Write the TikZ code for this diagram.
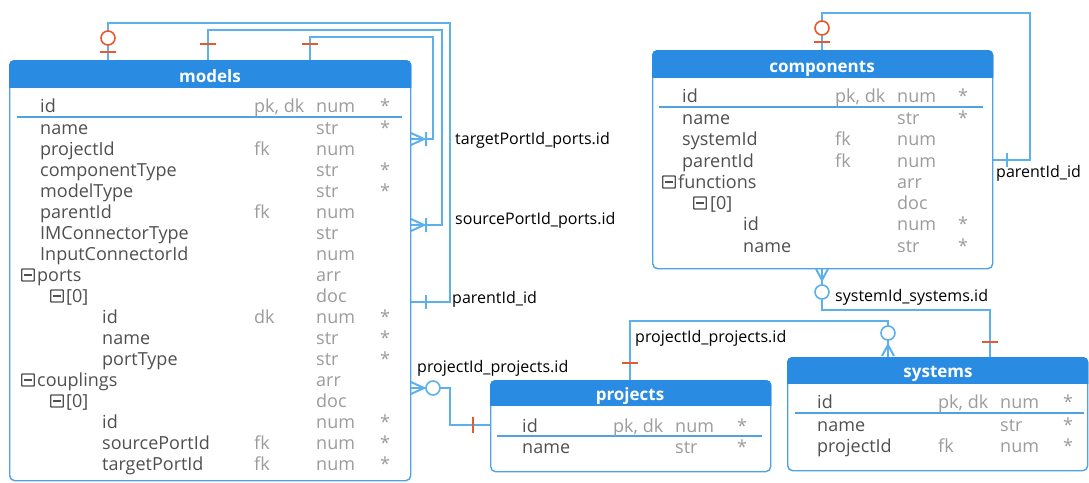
\documentclass[tikz,border=0pt]{standalone}
\usepackage{fontspec}
\setmainfont{Open Sans}
\usetikzlibrary{calc}
\definecolor{hdr}{HTML}{2A8BE2}
\definecolor{bord}{HTML}{4DA3E4}
\definecolor{conn}{HTML}{5CB0EC}
\definecolor{org}{HTML}{E8592B}
\definecolor{txt}{HTML}{505050}
\definecolor{lt}{HTML}{9C9C9C}
\newcommand\tf{\fontsize{18}{21}\selectfont}
\tikzset{
  tbl/.style={draw=bord, line width=1.4pt, rounded corners=5pt, fill=white, inner sep=0pt, anchor=north west},
  ttl/.style={text=white, font=\fontsize{17}{20}\selectfont\bfseries, inner sep=0pt, anchor=base},
  nm/.style={text=txt, font=\tf, inner sep=0pt, anchor=base west},
  ky/.style={text=lt, font=\tf, inner sep=0pt, anchor=base west},
  st/.style={text=lt, font=\tf, inner sep=0pt, anchor=base west},
  lbl/.style={text=black, font=\fontsize{16}{19}\selectfont, inner sep=0pt, anchor=base west},
  cn/.style={draw=conn, line width=2pt},
  ob/.style={draw=org, line width=2.4pt},
  oc/.style={draw=org, fill=white, line width=1.6pt},
  bc/.style={draw=conn, fill=white, line width=1.6pt},
  sep/.style={draw=bord, line width=1.5pt},
  mbox/.style={draw=txt, line width=1.4pt, rounded corners=0.6pt, minimum width=12.5pt, minimum height=12pt, inner sep=0pt,
    path picture={\draw[txt, line width=1.4pt] ([xshift=2pt]path picture bounding box.west) -- ([xshift=-2pt]path picture bounding box.east);}}
}
\newcommand\hdrfill[2]{%
  \begin{scope}
    \clip ($(#1.north west)+(-2,-2)$) rectangle ($(#1.north east)+(2,#2)$);
    \fill[hdr, rounded corners=5pt] (#1.north west) rectangle (#1.south east);
  \end{scope}}
\begin{document}
\begin{tikzpicture}[x=1pt,y=-1pt]
\fill[white] (0,0) rectangle (1089,482);
\useasboundingbox (0,0) rectangle (1089,482);

% ---------------- connectors (drawn first) ----------------
\coordinate (mt1) at (108,60);
\coordinate (mt2) at (208,60);
\coordinate (mt3) at (310,60);
\coordinate (mr1) at (410,139);
\coordinate (mr2) at (410,225);
\coordinate (mr3) at (410,302);
\coordinate (mr4) at (410,388);
\coordinate (pl) at (490,425);
\coordinate (ct) at (822,50);
\coordinate (cr) at (992,160);
\coordinate (cb) at (822,268);
\coordinate (st1) at (990,357);
\coordinate (st2) at (888,357);
\coordinate (pt) at (630,380);

\draw[cn] (mt1) |- (450,23) |- (mr3);
\draw[cn] (mt2) |- (442,30) |- (mr2);
\draw[cn] (mt3) |- (433,37) |- (mr1);
\draw[cn] (mr4) -- (450,388) |- (pl);
\draw[cn] (ct) |- (1030,13) |- (cr);
\draw[cn] (cb) -- (822,310) -| (st1);
\draw[cn] (st2) -- (888,321) -| (pt);

% ---------------- tables ----------------
% models
\node[tbl, minimum width=401pt, minimum height=420pt] (models) at (9,60) {};
\hdrfill{models}{27}
\node[ttl] (models-t) at (210,82) {models};
\draw[sep] (17,117) -- (402,117);
\node[nm] (m0) at (40,112) {id}; \node[ky] (m0k) at (254,112) {pk, dk}; \node[ky] (m0t) at (316,112) {num}; \node[st] (m0s) at (380,112) {*};
\node[nm] (m1) at (40,134) {name}; \node[ky] (m1t) at (316,134) {str}; \node[st] (m1s) at (380,134) {*};
\node[nm] (m2) at (40,155) {projectId}; \node[ky] (m2k) at (254,155) {fk}; \node[ky] (m2t) at (316,155) {num};
\node[nm] (m3) at (40,176) {componentType}; \node[ky] (m3t) at (316,176) {str}; \node[st] (m3s) at (380,176) {*};
\node[nm] (m4) at (40,197) {modelType}; \node[ky] (m4t) at (316,197) {str}; \node[st] (m4s) at (380,197) {*};
\node[nm] (m5) at (40,218) {parentId}; \node[ky] (m5k) at (254,218) {fk}; \node[ky] (m5t) at (316,218) {num};
\node[nm] (m6) at (40,239) {IMConnectorType}; \node[ky] (m6t) at (316,239) {str};
\node[nm] (m7) at (40,260) {InputConnectorId}; \node[ky] (m7t) at (316,260) {num};
\node[mbox] (m8b) at (28,275) {}; \node[nm] (m8) at (37,281) {ports}; \node[ky] (m8t) at (316,281) {arr};
\node[mbox] (m9b) at (57,296) {}; \node[nm] (m9) at (66,302) {[0]}; \node[ky] (m9t) at (316,302) {doc};
\node[nm] (m10) at (102,323) {id}; \node[ky] (m10k) at (254,323) {dk}; \node[ky] (m10t) at (316,323) {num}; \node[st] (m10s) at (380,323) {*};
\node[nm] (m11) at (102,344) {name}; \node[ky] (m11t) at (316,344) {str}; \node[st] (m11s) at (380,344) {*};
\node[nm] (m12) at (102,365) {portType}; \node[ky] (m12t) at (316,365) {str}; \node[st] (m12s) at (380,365) {*};
\node[mbox] (m13b) at (28,380) {}; \node[nm] (m13) at (37,386) {couplings}; \node[ky] (m13t) at (316,386) {arr};
\node[mbox] (m14b) at (57,401) {}; \node[nm] (m14) at (66,407) {[0]}; \node[ky] (m14t) at (316,407) {doc};
\node[nm] (m15) at (102,428) {id}; \node[ky] (m15t) at (316,428) {num}; \node[st] (m15s) at (380,428) {*};
\node[nm] (m16) at (102,449) {sourcePortId}; \node[ky] (m16k) at (254,449) {fk}; \node[ky] (m16t) at (316,449) {num}; \node[st] (m16s) at (380,449) {*};
\node[nm] (m17) at (102,470) {targetPortId}; \node[ky] (m17k) at (254,470) {fk}; \node[ky] (m17t) at (316,470) {num}; \node[st] (m17s) at (380,470) {*};

% components
\node[tbl, minimum width=340pt, minimum height=218pt] (components) at (652,50) {};
\hdrfill{components}{27}
\node[ttl] (components-t) at (822,72) {components};
\draw[sep] (659,107) -- (983,107);
\node[nm] (c0) at (682,102) {id}; \node[ky] (c0k) at (835,102) {pk, dk}; \node[ky] (c0t) at (897,102) {num}; \node[st] (c0s) at (958,102) {*};
\node[nm] (c1) at (682,124) {name}; \node[ky] (c1t) at (897,124) {str}; \node[st] (c1s) at (958,124) {*};
\node[nm] (c2) at (682,145) {systemId}; \node[ky] (c2k) at (835,145) {fk}; \node[ky] (c2t) at (897,145) {num};
\node[nm] (c3) at (682,167) {parentId}; \node[ky] (c3k) at (835,167) {fk}; \node[ky] (c3t) at (897,167) {num};
\node[mbox] (c4b) at (669,182) {}; \node[nm] (c4) at (678,188) {functions}; \node[ky] (c4t) at (897,188) {arr};
\node[mbox] (c5b) at (700,203) {}; \node[nm] (c5) at (710,209) {[0]}; \node[ky] (c5t) at (897,209) {doc};
\node[nm] (c6) at (743,230) {id}; \node[ky] (c6t) at (897,230) {num}; \node[st] (c6s) at (958,230) {*};
\node[nm] (c7) at (743,252) {name}; \node[ky] (c7t) at (897,252) {str}; \node[st] (c7s) at (958,252) {*};

% systems
\node[tbl, minimum width=300pt, minimum height=113pt] (systems) at (787,357) {};
\hdrfill{systems}{26}
\node[ttl] (systems-t) at (938,377) {systems};
\draw[sep] (795,413) -- (1084,413);
\node[nm] (s0) at (817,408) {id}; \node[ky] (s0k) at (938,408) {pk, dk}; \node[ky] (s0t) at (1000,408) {num}; \node[st] (s0s) at (1063,408) {*};
\node[nm] (s1) at (817,431) {name}; \node[ky] (s1t) at (1000,431) {str}; \node[st] (s1s) at (1063,431) {*};
\node[nm] (s2) at (817,452) {projectId}; \node[ky] (s2k) at (938,452) {fk}; \node[ky] (s2t) at (1000,452) {num}; \node[st] (s2s) at (1063,452) {*};

% projects
\node[tbl, minimum width=280pt, minimum height=91pt] (projects) at (490,380) {};
\hdrfill{projects}{25}
\node[ttl] (projects-t) at (630,400) {projects};
\draw[sep] (497,436) -- (762,436);
\node[nm] (p0) at (522,432) {id}; \node[ky] (p0k) at (613,432) {pk, dk}; \node[ky] (p0t) at (675,432) {num}; \node[st] (p0s) at (737,432) {*};
\node[nm] (p1) at (522,453) {name}; \node[ky] (p1t) at (675,453) {str}; \node[st] (p1s) at (737,453) {*};

% ---------------- markers ----------------
% models self relations (parent side)
\draw[ob] (100,52) -- (116,52);
\draw[oc] (108,38) circle (7);
\draw[ob] (200,44) -- (216,44);
\draw[ob] (302,44) -- (318,44);
% child side on models right edge
\draw[cn] (424,139) -- (411,133) (424,139) -- (411,145) (426,132) -- (426,146);
\draw[cn] (424,225) -- (411,219) (424,225) -- (411,231) (426,218) -- (426,232);
\draw[cn] (426,295) -- (426,309);
% models -> projects
\draw[cn] (424,388) -- (411,382) (424,388) -- (411,394);
\draw[bc] (433,388) circle (7);
\draw[ob] (473,417) -- (473,433);
% components self
\draw[ob] (814,42) -- (830,42);
\draw[oc] (822,28) circle (7);
\draw[cn] (1007,153) -- (1007,167);
% components -> systems
\draw[cn] (822,280) -- (816,269) (822,280) -- (828,269);
\draw[bc] (822,292) circle (7);
\draw[ob] (982,342) -- (998,342);
% systems -> projects
\draw[cn] (888,345) -- (882,356) (888,345) -- (894,356);
\draw[bc] (888,333) circle (7);
\draw[ob] (622,363) -- (638,363);

% ---------------- labels ----------------
\node[lbl] (l1) at (455,144) {targetPortId\_ports.id};
\node[lbl] (l2) at (455,224) {sourcePortId\_ports.id};
\node[lbl] (l3) at (452,303) {parentId\_id};
\node[lbl] (l4) at (417,372) {projectId\_projects.id};
\node[lbl] (l5) at (635,342) {projectId\_projects.id};
\node[lbl] (l6) at (835,301) {systemId\_systems.id};
\node[lbl] (l7) at (996,177) {parentId\_id};
\end{tikzpicture}
\end{document}
